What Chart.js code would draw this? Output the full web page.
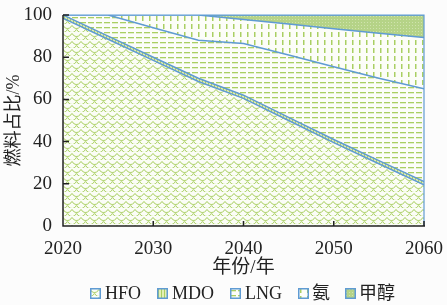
<!DOCTYPE html>
<html>
<head>
<meta charset="utf-8">
<script src="https://cdn.jsdelivr.net/npm/chart.js@4"></script>
<style>
	html, body { margin: 0; padding: 0; background: #fcfcfc; }
	#wrap { position: relative; width: 447px; height: 305px; }
	#legend { position: absolute; left: 0; top: 282px; width: 447px; height: 22px; font: 18px 'Liberation Serif', 'Noto Sans CJK SC', serif; color: #222; }
	#legend .item { position: absolute; top: 0; white-space: nowrap; line-height: 22px; }
	#legend canvas { position: absolute; top: 6px; left: 0; }
	#legend span { position: absolute; top: 0; }
</style>
</head>
<body>
<div id="wrap">
	<canvas id="c" width="447" height="305"></canvas>
	<div id="legend"></div>
</div>
<script>
const years = [2020, 2025, 2030, 2035, 2040, 2045, 2050, 2055, 2060];
const hfo = [98.5, 88.5, 78.5, 68.5, 60.5, 50, 39.5, 29.5, 19.5];
const mdo = [1.5, 1.5, 1.5, 1.5, 1.5, 1.5, 1.5, 1.5, 1.5];
const lng = [0, 10, 14, 18, 24.5, 29.5, 34.5, 39, 44];
const nh3 = [0, 0, 6, 12, 11.4, 14.7, 18, 21.3, 24.3];
const meoh = [0, 0, 0, 0, 2.1, 4.3, 6.5, 8.7, 10.7];
const names = ['HFO', 'MDO', 'LNG', '氨', '甲醇'];
const yTicks = [0, 20, 40, 60, 80, 100];
const xTicks = [2020, 2030, 2040, 2050, 2060];

const green = '#a9cf62';
const blue = '#5f9bd3';
const font = "'Liberation Serif', 'Noto Sans CJK SC', serif";

let ctx = document.getElementById('c').getContext('2d');

function makePattern(w, h, bg, draw) {
	let c = document.createElement('canvas');
	c.width = w;
	c.height = h;
	let g = c.getContext('2d');
	g.fillStyle = bg;
	g.fillRect(0, 0, w, h);
	draw(g);
	return c;
}

// fish scales
let tHfo = makePattern(9, 8, '#fbfdf6', (g) => {
	g.strokeStyle = green;
	g.lineWidth = 1;
	[[4.5, 0], [0, 4], [9, 4], [4.5, 8]].forEach(([cx, cy]) => {
		g.beginPath();
		g.arc(cx, cy, 4.5, 0.1 * Math.PI, 0.9 * Math.PI);
		g.stroke();
	});
});
// vertical stripes
let tMdo = makePattern(3, 3, '#e4efb4', (g) => {
	g.fillStyle = green;
	g.fillRect(1, 0, 1, 3);
});
// horizontal dashes
let tLng = makePattern(8, 5, '#fcfdf8', (g) => {
	g.fillStyle = green;
	g.fillRect(0, 2, 6, 1.3);
});
// vertical dashes
let tNh3 = makePattern(7, 8, '#fcfdf8', (g) => {
	g.fillStyle = green;
	g.fillRect(2, 0, 1.5, 5);
});
// dense dots
let tMeoh = makePattern(3, 3, '#b5d387', (g) => {
	g.fillStyle = '#cfe3ad';
	g.fillRect(1, 1, 1, 1);
});

const tiles = [tHfo, tMdo, tLng, tNh3, tMeoh];
const fills = tiles.map((t) => ctx.createPattern(t, 'repeat'));
const series = [hfo, mdo, lng, nh3, meoh];

// legend in html, boxes filled with the same tiles
const legendX = [90, 157, 230, 298, 345];
names.forEach((n, i) => {
	let item = document.createElement('div');
	item.className = 'item';
	item.style.left = legendX[i] + 'px';
	let box = document.createElement('canvas');
	box.width = 11;
	box.height = 11;
	let b = box.getContext('2d');
	b.fillStyle = b.createPattern(tiles[i], 'repeat');
	b.fillRect(0, 0, 11, 11);
	b.strokeStyle = blue;
	b.lineWidth = 1.5;
	b.strokeRect(0.75, 0.75, 9.5, 9.5);
	item.appendChild(box);
	let s = document.createElement('span');
	s.style.left = (i == 3 || i == 4 ? 14 : 15) + 'px';
	s.textContent = n;
	item.appendChild(s);
	document.getElementById('legend').appendChild(item);
});

// inward tick marks and frame
const frame = {
	id: 'frame',
	afterDatasetsDraw(chart) {
		let a = chart.chartArea;
		let g = chart.ctx;
		let xs = chart.scales.x, ys = chart.scales.y;
		g.save();
		g.strokeStyle = blue;
		g.lineWidth = 1.2;
		g.beginPath();
		g.moveTo(a.left, a.top);
		g.lineTo(a.right, a.top);
		g.lineTo(a.right, a.bottom);
		g.stroke();
		g.strokeStyle = '#222';
		g.lineWidth = 1.5;
		g.beginPath();
		g.moveTo(a.left, a.top);
		g.lineTo(a.left, a.bottom);
		g.lineTo(a.right + 1, a.bottom);
		yTicks.forEach((v) => {
			let y = ys.getPixelForValue(v);
			g.moveTo(a.left, y);
			g.lineTo(a.left + 6, y);
		});
		xTicks.forEach((v) => {
			let x = xs.getPixelForValue(v);
			g.moveTo(x, a.bottom);
			g.lineTo(x, a.bottom - 5);
		});
		g.stroke();
		g.restore();
	}
};

new Chart(ctx, {
	type: 'line',
	data: {
		labels: years,
		datasets: series.map((s, i) => ({
			label: names[i],
			data: s.map((v, j) => ({ x: years[j], y: v })),
			backgroundColor: fills[i],
			borderColor: blue,
			borderWidth: 1.5,
			pointRadius: 0,
			fill: i == 0 ? 'origin' : '-1'
		}))
	},
	options: {
		responsive: false,
		animation: false,
		layout: { padding: { left: 0, right: 19, top: 15, bottom: 26 } },
		plugins: {
			tooltip: { enabled: false },
			legend: { display: false }
		},
		scales: {
			x: {
				type: 'linear',
				min: 2020,
				max: 2060,
				grid: { display: false },
				border: { display: false },
				afterBuildTicks(s) { s.ticks = xTicks.map((v) => ({ value: v })); },
				afterFit(s) { s.height = 53; },
				ticks: {
					color: '#222',
					padding: 4,
					font: { family: font, size: 19 },
					callback: (v) => String(v)
				},
				title: {
					display: true,
					text: '年份/年',
					color: '#222',
					padding: { top: 0, bottom: 0 },
					font: { family: font, size: 19 }
				}
			},
			y: {
				stacked: true,
				min: 0,
				max: 100,
				grid: { display: false },
				border: { display: false },
				afterBuildTicks(s) { s.ticks = yTicks.map((v) => ({ value: v })); },
				afterFit(s) { s.width = 63; },
				ticks: {
					color: '#222',
					padding: 3,
					font: { family: font, size: 19 }
				},
				title: {
					display: true,
					text: '燃料占比/%',
					color: '#222',
					padding: { top: 3, bottom: 0 },
					font: { family: font, size: 18 }
				}
			}
		}
	},
	plugins: [frame]
});
</script>
</body>
</html>
